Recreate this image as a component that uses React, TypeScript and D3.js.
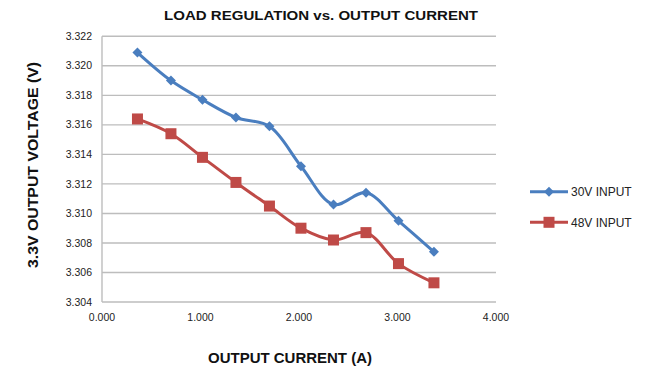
import React from "react";
import * as d3 from "d3";

const currents = [0.36, 0.7, 1.02, 1.36, 1.7, 2.02, 2.35, 2.68, 3.01, 3.37];
const v30 = [3.3209, 3.319, 3.3177, 3.3165, 3.3159, 3.3132, 3.3106, 3.3114, 3.3095, 3.3074];
const v48 = [3.3164, 3.3154, 3.3138, 3.3121, 3.3105, 3.309, 3.3082, 3.3087, 3.3066, 3.3053];
const yTicks = [3.304, 3.306, 3.308, 3.31, 3.312, 3.314, 3.316, 3.318, 3.32, 3.322];
const xTicks = [0, 1, 2, 3, 4];
const seriesNames = ["30V INPUT", "48V INPUT"];

const W = 650;
const H = 373;
const FONT = "'Liberation Sans', Arial, sans-serif";
const BLUE = "#4A7EBF";
const RED = "#BF4A47";

export default function App() {
  const x = d3.scaleLinear().domain([0, 4]).range([102, 496]);
  const y = d3.scaleLinear().domain([3.304, 3.322]).range([302, 36.3]);
  const line = d3
    .line<[number, number]>()
    .x((d) => x(d[0]))
    .y((d) => y(d[1]))
    .curve(d3.curveCatmullRom.alpha(0.5));
  const blue: [number, number][] = currents.map((c, i) => [c, v30[i]]);
  const red: [number, number][] = currents.map((c, i) => [c, v48[i]]);
  const diamond = (cx: number, cy: number, r: number) =>
    `M${cx},${cy - r}L${cx + r},${cy}L${cx},${cy + r}L${cx - r},${cy}Z`;

  return (
    <svg
      width={W}
      height={H}
      style={{ position: "absolute", left: 0, top: 0, background: "#fff" }}
      fontFamily={FONT}
    >
      <rect width={W} height={H} fill="#fff" />
      <text
        x={321}
        y={20}
        textAnchor="middle"
        fontSize={13.5}
        fontWeight="bold"
        fill="#111"
        textLength={314}
        lengthAdjust="spacingAndGlyphs"
      >
        LOAD REGULATION vs. OUTPUT CURRENT
      </text>
      {yTicks.map((t) => (
        <g key={t}>
          <line x1={x(0)} x2={x(4)} y1={y(t)} y2={y(t)} stroke="#BDBDBD" strokeWidth={1.4} />
          <text x={92} y={y(t) + 3.6} textAnchor="end" fontSize={10.5} fill="#222">
            {t.toFixed(3)}
          </text>
        </g>
      ))}
      <line x1={x(0)} x2={x(0)} y1={y(3.322)} y2={y(3.304)} stroke="#BDBDBD" strokeWidth={1.4} />
      {xTicks.map((t) => (
        <text key={t} x={x(t)} y={321} textAnchor="middle" fontSize={10.5} fill="#222">
          {t.toFixed(3)}
        </text>
      ))}
      <text
        x={290}
        y={363}
        textAnchor="middle"
        fontSize={14.5}
        fontWeight="bold"
        fill="#111"
        textLength={164}
        lengthAdjust="spacingAndGlyphs"
      >
        OUTPUT CURRENT (A)
      </text>
      <text
        transform={`translate(37.5,165) rotate(-90)`}
        textAnchor="middle"
        fontSize={14.5}
        fontWeight="bold"
        fill="#111"
        textLength={206}
        lengthAdjust="spacingAndGlyphs"
      >
        3.3V OUTPUT VOLTAGE (V)
      </text>
      <path d={line(blue) || ""} fill="none" stroke={BLUE} strokeWidth={3} />
      {blue.map((d, i) => (
        <path key={i} d={diamond(x(d[0]), y(d[1]), 5)} fill={BLUE} />
      ))}
      <path d={line(red) || ""} fill="none" stroke={RED} strokeWidth={3} />
      {red.map((d, i) => (
        <rect key={i} x={x(d[0]) - 5.5} y={y(d[1]) - 5.5} width={11} height={11} fill={RED} />
      ))}
      <g>
        <line x1={530} x2={568} y1={191.7} y2={191.7} stroke={BLUE} strokeWidth={3} />
        <path d={diamond(549, 191.7, 5)} fill={BLUE} />
        <text x={571} y={196} fontSize={12} fill="#222">
          {seriesNames[0]}
        </text>
        <line x1={530} x2={568} y1={222.3} y2={222.3} stroke={RED} strokeWidth={3} />
        <rect x={543.5} y={216.8} width={11} height={11} fill={RED} />
        <text x={571} y={226.5} fontSize={12} fill="#222">
          {seriesNames[1]}
        </text>
      </g>
    </svg>
  );
}
